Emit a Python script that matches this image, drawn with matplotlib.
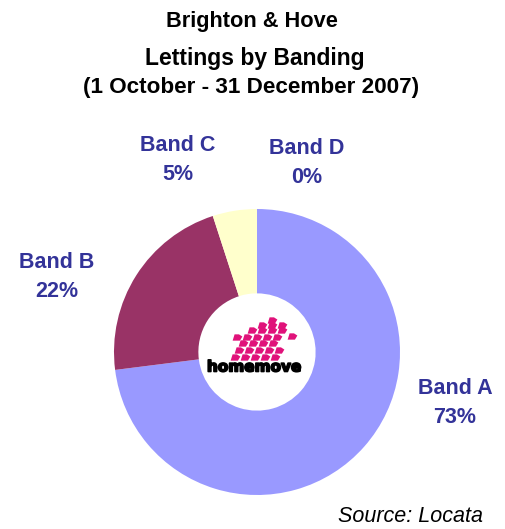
import matplotlib
matplotlib.use("Agg")
import matplotlib.pyplot as plt
from matplotlib.path import Path
import matplotlib.patheffects as pe

# ---- data ----
bands = ["Band A", "Band B", "Band C", "Band D"]
shares = [73, 22, 5, 0]
colors = ["#9999FF", "#993366", "#FFFFCC", "#CCFFFF"]
label_pos_px = [(455, 403), (57, 277), (178, 160), (307, 163)]
title_lines = ["Brighton & Hove", "Lettings by Banding", "(1 October - 31 December 2007)"]
source_text = "Source: Locata"

W, H = 505, 529
DPI = 100
plt.rcParams["font.family"] = ["Liberation Sans", "DejaVu Sans"]

fig = plt.figure(figsize=(W / DPI, H / DPI), dpi=DPI)
fig.patch.set_facecolor("white")

def fx(x):
    return x / W

def fy(y):
    return 1 - y / H

# pie axes: centre (257, 352), radius 143 px
cx, cy, R = 257, 352, 143
ax = fig.add_axes([fx(cx - R), fy(cy + R), 2 * R / W, 2 * R / H])
ax.pie(shares, colors=colors, startangle=90, counterclock=False, radius=1,
       wedgeprops=dict(width=0.59, linewidth=0))
ax.set_xlim(-1, 1)
ax.set_ylim(-1, 1)
ax.set_aspect("auto")
ax.axis("off")

# logo in the hole (decorative)
def px2d(x, y):
    return (x - cx) / R, (cy - y) / R

mark = Path([(-1, -0.65), (0.5, -0.65), (1, 0.2), (0.3, 0.65), (-0.6, 0.65), (-1, -0.65)],
            [Path.MOVETO, Path.LINETO, Path.LINETO, Path.LINETO, Path.LINETO, Path.CLOSEPOLY])
rows = [  # (y, first x, count)
    (357, 235, 5),
    (350, 239, 5),
    (343, 243, 4),
    (337, 237, 5),
    (330, 252, 4),
    (325, 262, 3),
    (320, 272, 1),
]
lx, ly = [], []
for y, x0, n in rows:
    for k in range(n):
        px, py = px2d(x0 + k * 10, y)
        lx.append(px)
        ly.append(py)
px, py = px2d(292, 336)
lx.append(px)
ly.append(py)
ax.plot(lx, ly, linestyle="none", marker=mark, markersize=7,
        color="#E0127A", markeredgewidth=0)
tx, ty = px2d(254, 367)
t = ax.text(tx, ty, "homemove", ha="center", va="center", fontsize=11,
            fontweight="heavy", family="DejaVu Sans", color="black")
t.set_path_effects([pe.Stroke(linewidth=1.2, foreground="black"), pe.Normal()])

# labels
for name, val, (x, y) in zip(bands, shares, label_pos_px):
    fig.text(fx(x), fy(y), f"{name}\n{val}%", ha="center", va="center",
             fontsize=15.5, fontweight="bold", color="#333399", linespacing=1.45)

# titles
fig.text(fx(252), fy(22), title_lines[0], ha="center", va="center",
         fontsize=15.7, fontweight="bold", color="black")
fig.text(fx(255), fy(58), title_lines[1], ha="center", va="center",
         fontsize=16.5, fontweight="bold", color="black")
fig.text(fx(251), fy(88), title_lines[2], ha="center", va="center",
         fontsize=16.2, fontweight="bold", color="black")

fig.text(fx(411), fy(517), source_text, ha="center", va="center",
         fontsize=15.5, style="italic", color="black")

fig.savefig("out.png", dpi=DPI)
